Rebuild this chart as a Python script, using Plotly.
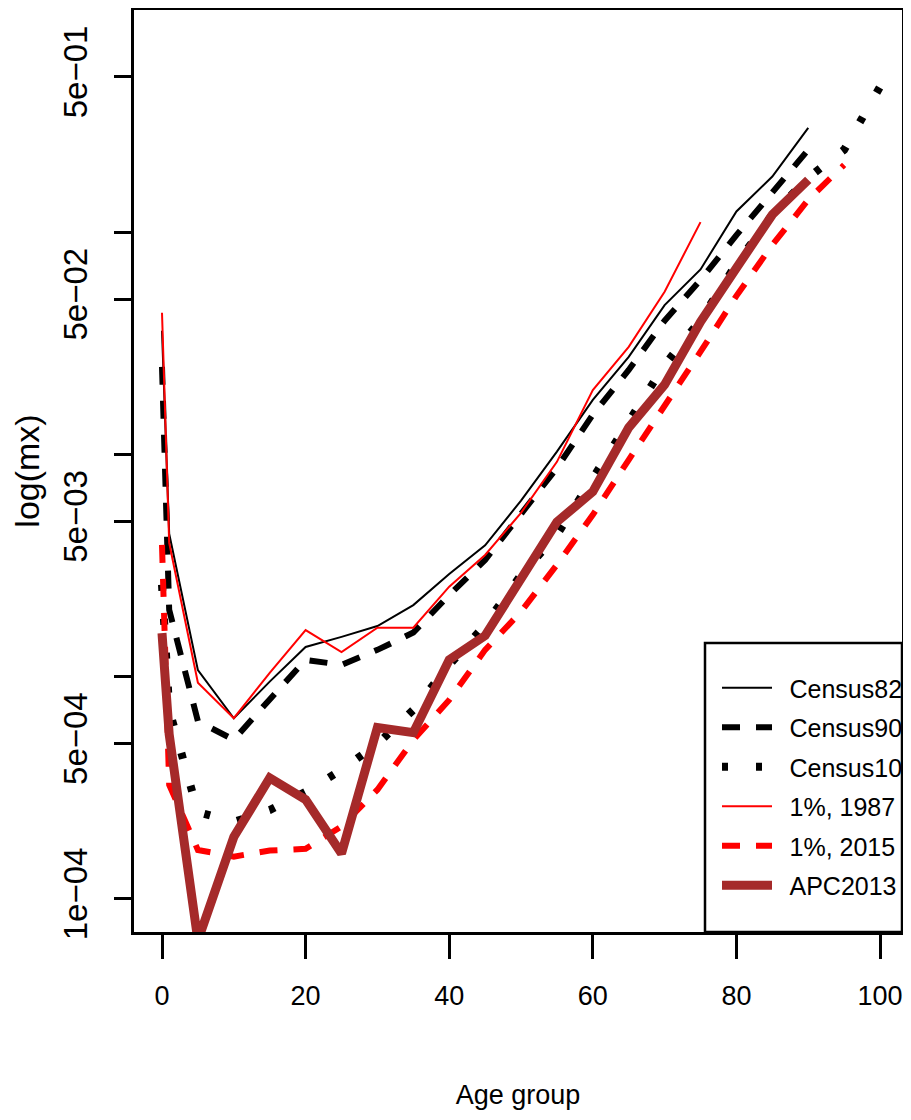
import plotly.graph_objects as go

# ---------------- data ----------------
ages_full = [0, 1, 5, 10, 15, 20, 25, 30, 35, 40, 45, 50, 55, 60, 65, 70, 75, 80, 85, 90]
ages_1987 = [0, 1, 5, 10, 15, 20, 25, 30, 35, 40, 45, 50, 55, 60, 65, 70, 75]
ages_2015 = [0, 1, 5, 10, 15, 20, 25, 30, 35, 40, 45, 50, 55, 60, 65, 70, 75, 80, 85, 90, 95]
ages_c10 = [0, 1, 5, 10, 15, 20, 25, 30, 35, 40, 45, 50, 55, 60, 65, 70, 75, 80, 85, 90, 95, 100]

census82 = [0.036, 0.0044, 0.00107, 0.00065, 0.00095, 0.00136, 0.00151, 0.00169, 0.0021, 0.0029,
            0.0039, 0.0062, 0.0103, 0.0176, 0.0275, 0.047, 0.068, 0.124, 0.178, 0.295]
census90 = [0.0248, 0.0020, 0.00063, 0.00052, 0.00079, 0.00119, 0.00113, 0.00132, 0.00158, 0.00233,
            0.00335, 0.00535, 0.0087, 0.0151, 0.024, 0.040, 0.061, 0.097, 0.150, 0.235]
census10 = [0.00259, 0.00071, 0.000246, 0.000222, 0.000251, 0.000303, 0.000381, 0.000498, 0.000709,
            0.00113, 0.00171, 0.00287, 0.00435, 0.00785, 0.0137, 0.0253, 0.0403, 0.0721, 0.120,
            0.176, 0.235, 0.451]
pct_1987 = [0.0434, 0.0040, 0.00094, 0.00065, 0.00104, 0.00162, 0.00129, 0.00166, 0.00166, 0.00254,
            0.00353, 0.00546, 0.00926, 0.0195, 0.0305, 0.054, 0.111]
pct_2015 = [0.00392, 0.000326, 0.000166, 0.000155, 0.000165, 0.000168, 0.000212, 0.000310, 0.000519,
            0.000786, 0.00132, 0.00196, 0.00319, 0.00535, 0.00946, 0.0164, 0.0290, 0.0517, 0.0877,
            0.140, 0.201]
apc2013 = [0.00157, 0.00055, 0.000065, 0.00019, 0.00035, 0.00028, 0.00016, 0.00059, 0.00056, 0.00119,
           0.00153, 0.00273, 0.00497, 0.0068, 0.0132, 0.0206, 0.0395, 0.069, 0.120, 0.172]

series_names = ["Census82", "Census90", "Census10", "1%, 1987", "1%, 2015", "APC2013"]

y_tickvals = [1e-4, 5e-4, 1e-3, 5e-3, 1e-2, 5e-2, 1e-1, 5e-1]
y_ticktext = ["1e\u221204", "5e\u221204", "", "5e\u221203", "", "5e\u221202", "", "5e\u221201"]
x_tickvals = [0, 20, 40, 60, 80, 100]

FONT = "Liberation Sans, Arial, sans-serif"

styles = [
    dict(color="black", width=2, dash="solid"),
    dict(color="black", width=6, dash="18px,16px"),
    dict(color="black", width=8, dash="6px,28px"),
    dict(color="#ff0000", width=2, dash="solid"),
    dict(color="#ff0000", width=6, dash="18px,16px"),
    dict(color="#a52a2a", width=9, dash="solid"),
]
xs = [ages_full, ages_full, ages_c10, ages_1987, ages_2015, ages_full]
ys = [census82, census90, census10, pct_1987, pct_2015, apc2013]

fig = go.Figure()
for i, (name, x, y, ln) in enumerate(zip(series_names, xs, ys, styles)):
    fig.add_trace(go.Scatter(x=x, y=y, mode="lines", name="\u2002" + name, line=ln,
                             legendgroup=f"g{i}"))

# page has an 8px body margin; keep the whole figure inside the window (no scrollbars)
OFF = 8
W, H = 911 - 2 * OFF, 1120 - 2 * OFF
L, T = 134 - OFF, 10 - OFF
R = 1
pw = W - L - R          # plot box spans page x 134..902
ph = 922                # plot box spans page y 10..932
B = H - T - ph

def px_x(px):
    return (px - OFF - L) / pw

def px_y(py):
    return (T + ph - (py - OFF)) / ph

# legend frame
fig.add_shape(type="rect", xref="paper", yref="paper",
              x0=px_x(705), x1=1, y0=0, y1=px_y(643),
              fillcolor="white", line=dict(color="black", width=2.5), layer="above")

fig.update_layout(
    width=W, height=H,
    margin=dict(l=L, r=R, t=T, b=B, autoexpand=False),
    paper_bgcolor="white", plot_bgcolor="white",
    font=dict(family=FONT, color="black", size=25),
    showlegend=True,
    legend=dict(x=px_x(717), y=px_y(665), xanchor="left", yanchor="top",
                bgcolor="rgba(0,0,0,0)", borderwidth=0,
                font=dict(family=FONT, size=25, color="black"),
                itemwidth=50, tracegroupgap=4, traceorder="grouped"),
)

fig.update_xaxes(
    range=[-3.9, 103.06], tickvals=x_tickvals, ticks="outside", ticklen=24, tickwidth=2.5,
    tickcolor="black", showline=True, linecolor="black", linewidth=2.5, mirror=True,
    showgrid=False, zeroline=False, tickfont=dict(family=FONT, size=27),
    ticklabelstandoff=14, automargin=False,
    title=dict(text="Age group", font=dict(family=FONT, size=27), standoff=75),
)
fig.update_yaxes(
    type="log", range=[-4.149, 0.0], tickvals=y_tickvals, ticktext=y_ticktext,
    ticks="outside", ticklen=17, tickwidth=2.5, tickcolor="black",
    showline=True, linecolor="black", linewidth=2.5, mirror=True,
    showgrid=False, zeroline=False, tickangle=-90, automargin=False,
    tickfont=dict(family=FONT, size=33), ticklabelstandoff=14,
    title=dict(text="log(mx)", font=dict(family=FONT, size=34), standoff=30),
)

fig.write_html("out.html")
